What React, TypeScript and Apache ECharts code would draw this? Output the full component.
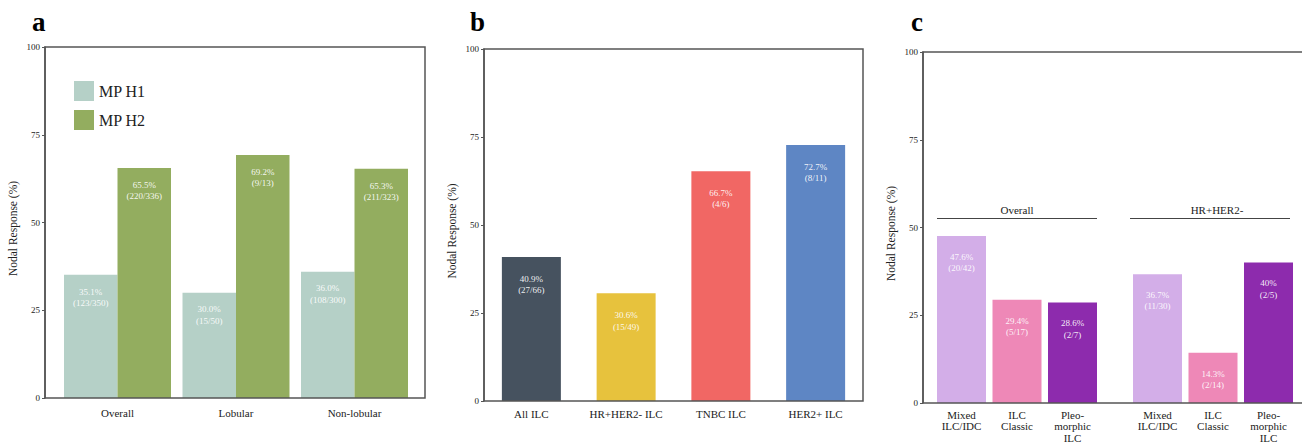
import React, { useEffect, useRef } from "react";
import * as echarts from "echarts";

// Panel a
const aCategories = ["Overall", "Lobular", "Non-lobular"];
const aSeriesNames = ["MP H1", "MP H2"];
const aH1 = [35.1, 30.0, 36.0];
const aH2 = [65.5, 69.2, 65.3];
const aH1Labels = ["35.1%\n(123/350)", "30.0%\n(15/50)", "36.0%\n(108/300)"];
const aH2Labels = ["65.5%\n(220/336)", "69.2%\n(9/13)", "65.3%\n(211/323)"];

// Panel b
const bCategories = ["All ILC", "HR+HER2- ILC", "TNBC ILC", "HER2+ ILC"];
const bValues = [40.9, 30.6, 65.3, 72.7];
const bLabels = ["40.9%\n(27/66)", "30.6%\n(15/49)", "66.7%\n(4/6)", "72.7%\n(8/11)"];

// Panel c
const cCategories = ["Mixed\nILC/IDC", "ILC\nClassic", "Pleo-\nmorphic\nILC"];
const cGroups = ["Overall", "HR+HER2-"];
const cOverall = [47.6, 29.4, 28.6];
const cOverallLabels = ["47.6%\n(20/42)", "29.4%\n(5/17)", "28.6%\n(2/7)"];
const cHR = [36.7, 14.3, 40];
const cHRLabels = ["36.7%\n(11/30)", "14.3%\n(2/14)", "40%\n(2/5)"];

const yTicks = [0, 25, 50, 75, 100];

const SERIF = "'Liberation Serif', 'DejaVu Serif', serif";
const AXIS_COLOR = "#555";
const TEXT_COLOR = "#222";
const cColors = ["#d3aee8", "#ee88b7", "#8d2bad"];
const bColors = ["#46525f", "#e7c23d", "#f16764", "#5e86c4"];

function yAxisCfg(gridIndex: number, offset: number, show = true) {
  return {
    type: "value",
    gridIndex,
    show,
    min: yTicks[0],
    max: yTicks[yTicks.length - 1],
    interval: 25,
    offset,
    name: "Nodal Response (%)",
    nameLocation: "middle",
    nameGap: 26,
    nameTextStyle: {
      fontFamily: SERIF,
      fontSize: 11.5,
      color: TEXT_COLOR,
      padding: [0, 12, 0, 0],
    },
    axisLine: { show: true, lineStyle: { color: AXIS_COLOR, width: 1.5 } },
    axisTick: { show: true, length: 3, lineStyle: { color: AXIS_COLOR } },
    axisLabel: {
      fontFamily: SERIF,
      fontSize: 9,
      color: TEXT_COLOR,
      margin: 5,
    },
    splitLine: { show: false },
  };
}

function xAxisCfg(gridIndex: number, data: string[], margin: number) {
  return {
    type: "category",
    gridIndex,
    data,
    axisLine: { show: false },
    axisTick: { show: false },
    axisLabel: {
      fontFamily: SERIF,
      fontSize: 11,
      color: TEXT_COLOR,
      margin,
      lineHeight: 11.5,
      interval: 0,
    },
  };
}

function labelCfg(distance: number) {
  return {
    show: true,
    position: "insideTop",
    distance,
    fontFamily: SERIF,
    fontSize: 9,
    lineHeight: 11.5,
    color: "rgba(255,255,255,0.92)",
    formatter: (p: any) => p.data.label,
  };
}

function withLabels(values: number[], labels: string[], colors?: string[]) {
  return values.map((v, i) => ({
    value: v,
    label: labels[i],
    ...(colors ? { itemStyle: { color: colors[i] } } : {}),
  }));
}

export default function App() {
  const ref = useRef<HTMLDivElement>(null);

  useEffect(() => {
    document.body.style.margin = "0";
    if (!ref.current) return;
    const chart = echarts.init(ref.current, undefined, { renderer: "svg" });

    const option: any = {
      animation: false,
      backgroundColor: "#fff",
      grid: [
        // a
        { left: 58.25, width: 355.5, top: 47, height: 351 },
        // b
        { left: 484, width: 379, top: 49, height: 352 },
        // c left group
        { left: 933.75, width: 166.5, top: 52, height: 351 },
        // c right group
        { left: 1129.75, width: 166.5, top: 52, height: 351 },
      ],
      xAxis: [
        xAxisCfg(0, aCategories, 9),
        xAxisCfg(1, bCategories, 7),
        xAxisCfg(2, cCategories, 6),
        xAxisCfg(3, cCategories, 6),
      ],
      yAxis: [
        yAxisCfg(0, 13.25),
        yAxisCfg(1, 0),
        yAxisCfg(2, 10.75),
        { ...yAxisCfg(3, 0, false) },
      ],
      legend: {
        orient: "vertical",
        left: 69,
        top: 76,
        itemWidth: 20,
        itemHeight: 20,
        itemGap: 9,
        icon: "rect",
        data: aSeriesNames,
        textStyle: { fontFamily: SERIF, fontSize: 16, color: TEXT_COLOR },
      },
      series: [
        {
          type: "bar",
          name: aSeriesNames[0],
          xAxisIndex: 0,
          yAxisIndex: 0,
          data: withLabels(aH1, aH1Labels),
          itemStyle: { color: "#b5d0c7" },
          barGap: "0%",
          barCategoryGap: "9.7%",
          label: labelCfg(11),
        },
        {
          type: "bar",
          name: aSeriesNames[1],
          xAxisIndex: 0,
          yAxisIndex: 0,
          data: withLabels(aH2, aH2Labels),
          itemStyle: { color: "#93ad5f" },
          barGap: "0%",
          barCategoryGap: "9.7%",
          label: labelCfg(11),
        },
        {
          type: "bar",
          name: "b",
          xAxisIndex: 1,
          yAxisIndex: 1,
          data: withLabels(bValues, bLabels, bColors),
          barWidth: 59,
          label: labelCfg(16),
        },
        {
          type: "bar",
          name: cGroups[0],
          xAxisIndex: 2,
          yAxisIndex: 2,
          data: withLabels(cOverall, cOverallLabels, cColors),
          barWidth: 49,
          label: labelCfg(15),
        },
        {
          type: "bar",
          name: cGroups[1],
          xAxisIndex: 3,
          yAxisIndex: 3,
          data: withLabels(cHR, cHRLabels, cColors),
          barWidth: 49,
          label: labelCfg(15),
        },
      ],
      graphic: [
        // frames
        {
          type: "rect",
          shape: { x: 45, y: 47, width: 380, height: 351 },
          style: { fill: "none", stroke: AXIS_COLOR, lineWidth: 1.5 },
          z: 10,
          silent: true,
        },
        {
          type: "rect",
          shape: { x: 484, y: 49, width: 379, height: 352 },
          style: { fill: "none", stroke: AXIS_COLOR, lineWidth: 1.5 },
          z: 10,
          silent: true,
        },
        {
          type: "rect",
          shape: { x: 923, y: 52, width: 400, height: 351 },
          style: { fill: "none", stroke: AXIS_COLOR, lineWidth: 1.5 },
          z: 10,
          silent: true,
        },
        // panel letters
        {
          type: "text",
          left: 32,
          top: 8,
          style: { text: "a", font: `bold 27px ${SERIF}`, fill: "#000" },
        },
        {
          type: "text",
          left: 470,
          top: 8,
          style: { text: "b", font: `bold 27px ${SERIF}`, fill: "#000" },
        },
        {
          type: "text",
          left: 911,
          top: 8,
          style: { text: "c", font: `bold 27px ${SERIF}`, fill: "#000" },
        },
        // group headers in c
        {
          type: "line",
          shape: { x1: 937, y1: 218.5, x2: 1097, y2: 218.5 },
          style: { stroke: "#444", lineWidth: 1.2 },
        },
        {
          type: "line",
          shape: { x1: 1130, y1: 218.5, x2: 1290, y2: 218.5 },
          style: { stroke: "#444", lineWidth: 1.2 },
        },
        {
          type: "text",
          x: 1017,
          y: 210,
          style: {
            text: cGroups[0],
            font: `11px ${SERIF}`,
            fill: TEXT_COLOR,
            textAlign: "center",
            textVerticalAlign: "middle",
          },
        },
        {
          type: "text",
          x: 1217,
          y: 210,
          style: {
            text: cGroups[1],
            font: `11px ${SERIF}`,
            fill: TEXT_COLOR,
            textAlign: "center",
            textVerticalAlign: "middle",
          },
        },
      ],
    };

    chart.setOption(option);
    return () => chart.dispose();
  }, []);

  return (
    <div
      ref={ref}
      style={{ width: 1302, height: 444, position: "absolute", left: 0, top: 0 }}
    />
  );
}
